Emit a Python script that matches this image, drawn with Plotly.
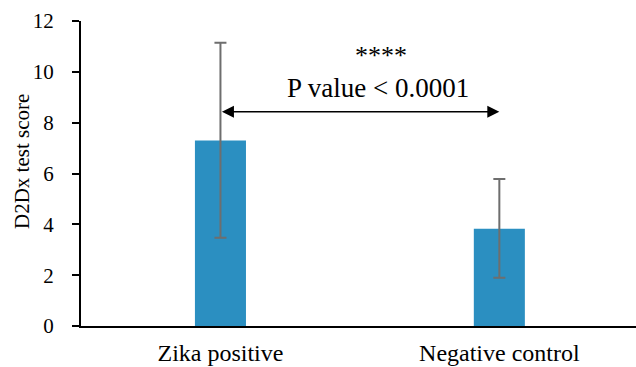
import plotly.graph_objects as go

categories = ["Zika positive", "Negative control"]
means = [7.3, 3.83]
err_upper = [11.14, 5.78]
err_lower = [3.47, 1.9]
y_ticks = [0, 2, 4, 6, 8, 10, 12]
y_title = "D2Dx test score"
sig_stars = "****"
p_text = "P value < 0.0001"

FONT = "Liberation Serif"
W, H = 636, 367
M = dict(l=81, r=0, t=21, b=41)
plot_w = W - M["l"] - M["r"]
plot_h = H - M["t"] - M["b"]

fig = go.Figure()
fig.add_trace(go.Bar(
    x=categories,
    y=means,
    marker=dict(color="#2b8fc1", line=dict(width=0)),
    width=0.183,
    error_y=dict(
        type="data",
        symmetric=False,
        array=[u - m for u, m in zip(err_upper, means)],
        arrayminus=[m - l for l, m in zip(err_lower, means)],
        color="#6e6e6e",
        thickness=2,
        width=6,
    ),
))

# double-headed arrow between the two groups
fig.add_annotation(
    x=categories[1], y=8.43, ax=categories[0], ay=8.43,
    xref="x", yref="y", axref="x", ayref="y",
    text="", showarrow=True, arrowhead=2, arrowside="end+start",
    arrowsize=1.5, arrowwidth=1.6, arrowcolor="black",
    startarrowhead=2, startarrowsize=1.5,
)
fig.add_annotation(
    x=0.565, y=9.35, xref="x", yref="y", text=p_text, showarrow=False,
    font=dict(family=FONT, size=27, color="black"),
)
fig.add_annotation(
    x=0.575, y=10.65, xref="x", yref="y", text=sig_stars, showarrow=False,
    font=dict(family=FONT, size=26, color="black"),
)
# y-axis title
fig.add_annotation(
    x=-59 / plot_w, y=(326 - 162) / plot_h, xref="paper", yref="paper",
    text=y_title, textangle=-90, showarrow=False, xanchor="center", yanchor="middle",
    font=dict(family=FONT, size=21, color="black"),
)

fig.update_layout(
    width=W, height=H,
    margin=M,
    plot_bgcolor="white", paper_bgcolor="white",
    showlegend=False,
    font=dict(family=FONT, size=21, color="black"),
    xaxis=dict(
        range=[-0.5, 1.49],
        showline=True, linecolor="black", linewidth=2,
        ticks="", ticklabelstandoff=4, automargin=False,
        tickfont=dict(family=FONT, size=24, color="black"),
        showgrid=False, zeroline=False,
    ),
    yaxis=dict(
        range=[0, 12], tickvals=y_ticks,
        showline=True, linecolor="black", linewidth=2,
        ticks="outside", ticklen=7, tickcolor="black", tickwidth=1.5,
        ticklabelstandoff=14, automargin=False,
        tickfont=dict(family=FONT, size=21, color="black"),
        showgrid=False, zeroline=False,
    ),
)

fig.write_html("out.html", config={"displayModeBar": False},
               post_script="document.body.style.margin='0';document.body.style.overflow='hidden';")
